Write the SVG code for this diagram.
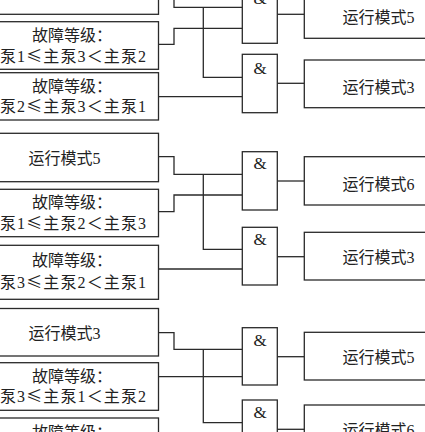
<svg xmlns="http://www.w3.org/2000/svg" width="425" height="432" viewBox="0 0 425 432">
<style>
.box{fill:#fff;stroke:#2a2a2a;stroke-width:1.3}
.gate{fill:#fff;stroke:#2a2a2a;stroke-width:1.3}
.wire{fill:none;stroke:#2a2a2a;stroke-width:1.3}
text{font-family:"Liberation Serif","Noto Sans CJK SC",serif;font-size:16px;fill:#222}
.c{font-family:"Noto Sans CJK SC",sans-serif}
.amp{text-anchor:middle;font-size:17px}
.mid{text-anchor:middle}
</style>
<rect width="425" height="432" fill="#fff"/>
<g id="connectors">
<path class="wire" d="M158.5,-8H174V7.3H242.3"/>
<path class="wire" d="M203.3,7.3V77.3H242.3"/>
<path class="wire" d="M158.5,44.3H174V28.3H242.3"/>
<path class="wire" d="M158.5,96.7H242.3"/>
<path class="wire" d="M277.3,14.3H304.3"/>
<path class="wire" d="M277.3,83.3H304.3"/>
<path class="wire" d="M158.5,156.7H174V174.3H242.3"/>
<path class="wire" d="M203.3,174.3V249.3H242.3"/>
<path class="wire" d="M158.5,211.7H174V195H242.3"/>
<path class="wire" d="M158.5,269H242.3"/>
<path class="wire" d="M277.3,181H304.3"/>
<path class="wire" d="M277.3,256.7H304.3"/>
<path class="wire" d="M158.5,332.7H174V349.3H242.3"/>
<path class="wire" d="M203.3,349.3V422.7H242.3"/>
<path class="wire" d="M158.5,376.7H242.3"/>
<path class="wire" d="M277.3,356.7H304.3"/>
<path class="wire" d="M277.3,429.3H304.3"/>
</g>
<g id="in0"><rect class="box" x="-30" y="-33" width="188.5" height="47.3"/></g>
<g id="in1"><rect class="box" x="-30" y="21.7" width="188.5" height="47.6"/>
<text x="32" y="40.7">故障等级<tspan class="c">：</tspan></text>
<text x="0" y="61.5" textLength="146" lengthAdjust="spacing">泵1<tspan class="c">≤</tspan>主泵3<tspan class="c">＜</tspan>主泵2</text></g>
<g id="in2"><rect class="box" x="-30" y="72.7" width="188.5" height="47.3"/>
<text x="32" y="92">故障等级<tspan class="c">：</tspan></text>
<text x="0" y="112.3" textLength="146" lengthAdjust="spacing">泵2<tspan class="c">≤</tspan>主泵3<tspan class="c">＜</tspan>主泵1</text></g>
<g id="in3"><rect class="box" x="-30" y="133.3" width="188.5" height="48.4"/>
<text class="mid" x="64.5" y="164">运行模式5</text></g>
<g id="in4"><rect class="box" x="-30" y="189.3" width="188.5" height="47.4"/>
<text x="32" y="207.8">故障等级<tspan class="c">：</tspan></text>
<text x="0" y="228.5" textLength="146" lengthAdjust="spacing">泵1<tspan class="c">≤</tspan>主泵2<tspan class="c">＜</tspan>主泵3</text></g>
<g id="in5"><rect class="box" x="-30" y="245.3" width="188.5" height="54"/>
<text x="32" y="265.5">故障等级<tspan class="c">：</tspan></text>
<text x="0" y="288" textLength="146" lengthAdjust="spacing">泵3<tspan class="c">≤</tspan>主泵2<tspan class="c">＜</tspan>主泵1</text></g>
<g id="in6"><rect class="box" x="-30" y="308.5" width="188.5" height="47.5"/>
<text class="mid" x="64.5" y="338.5">运行模式3</text></g>
<g id="in7"><rect class="box" x="-30" y="362.7" width="188.5" height="47.6"/>
<text x="32" y="381.5">故障等级<tspan class="c">：</tspan></text>
<text x="0" y="402" textLength="146" lengthAdjust="spacing">泵3<tspan class="c">≤</tspan>主泵1<tspan class="c">＜</tspan>主泵2</text></g>
<g id="in8"><rect class="box" x="-30" y="418" width="188.5" height="47.5"/>
<text x="32" y="437.5">故障等级<tspan class="c">：</tspan></text></g>
<g id="gate1"><rect class="gate" x="242.3" y="-16" width="35" height="59.3"/><text class="amp" x="260" y="3.5">&amp;</text></g>
<g id="gate2"><rect class="gate" x="242.3" y="54.3" width="35" height="58.4"/><text class="amp" x="260" y="74">&amp;</text></g>
<g id="gate3"><rect class="gate" x="242.3" y="151.7" width="35" height="58.3"/><text class="amp" x="260" y="169.3">&amp;</text></g>
<g id="gate4"><rect class="gate" x="242.3" y="227.3" width="35" height="57.7"/><text class="amp" x="260" y="245">&amp;</text></g>
<g id="gate5"><rect class="gate" x="242.3" y="327.7" width="35" height="57.3"/><text class="amp" x="260" y="346">&amp;</text></g>
<g id="gate6"><rect class="gate" x="242.3" y="400" width="35" height="58"/><text class="amp" x="260" y="418">&amp;</text></g>
<g id="out1"><rect class="box" x="304.3" y="-9.5" width="140" height="47.8"/><text x="342.5" y="22.5">运行模式5</text></g>
<g id="out2"><rect class="box" x="304.3" y="60" width="140" height="47.7"/><text x="342.5" y="92.5">运行模式3</text></g>
<g id="out3"><rect class="box" x="304.3" y="156.7" width="140" height="48.3"/><text x="342.5" y="189.5">运行模式6</text></g>
<g id="out4"><rect class="box" x="304.3" y="232.3" width="140" height="47.7"/><text x="342.5" y="262.5">运行模式3</text></g>
<g id="out5"><rect class="box" x="304.3" y="332.3" width="140" height="47.7"/><text x="342.5" y="362.5">运行模式5</text></g>
<g id="out6"><rect class="box" x="304.3" y="405" width="140" height="47.7"/><text x="342.5" y="435.5">运行模式6</text></g>
</svg>
